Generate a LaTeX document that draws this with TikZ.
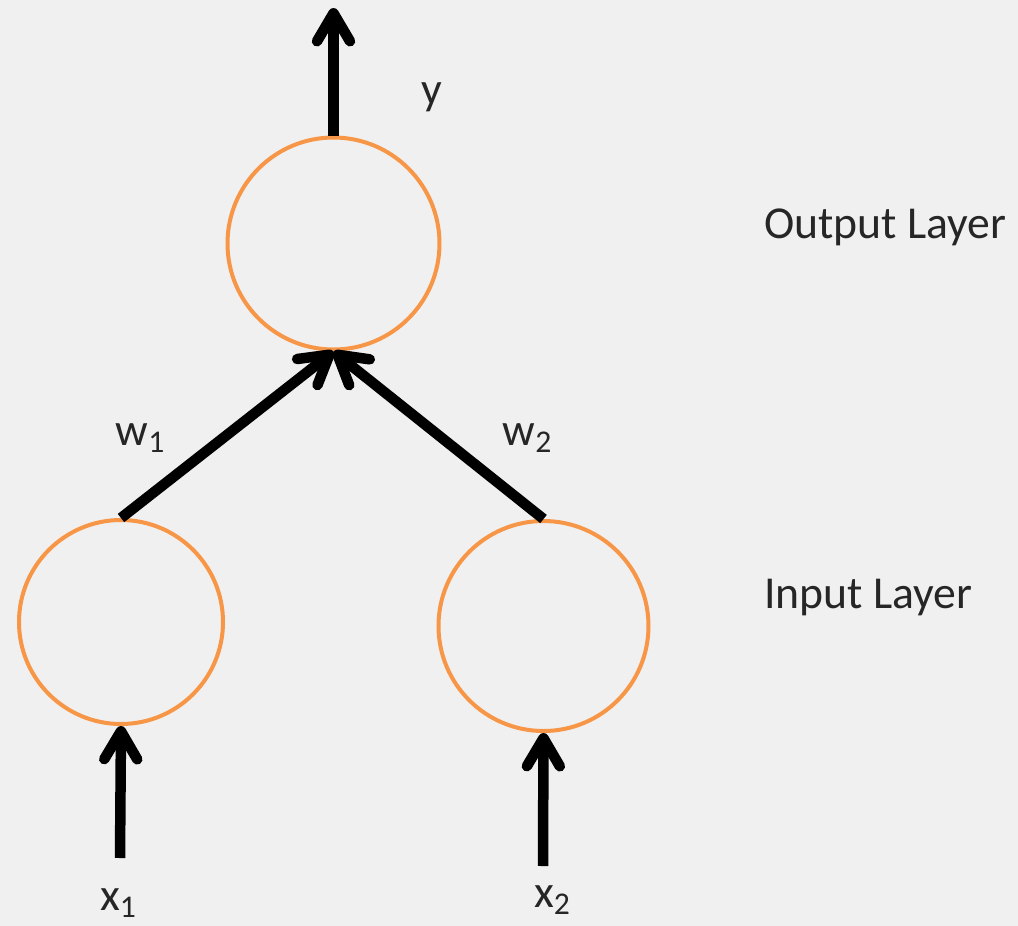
\documentclass[tikz,border=0pt]{standalone}
\usepackage{fontspec}
\setmainfont{Carlito}
\usetikzlibrary{arrows.meta}
\definecolor{bggrey}{HTML}{F0F0F0}
\definecolor{neuron}{HTML}{F79646}
\newcommand{\sub}[1]{\raisebox{-0.35ex}{\small #1}}
\begin{document}
\begin{tikzpicture}[
  unit/.style={circle,draw=neuron,line width=0.4mm,inner sep=0pt},
  link/.style={line width=1.05mm,-{Straight Barb[length=2.8mm,width=3.3mm,round]}},
  lbl/.style={font=\fontsize{13}{15}\selectfont,text=black!85}]
  % background
  \fill[bggrey] (0,0) rectangle (10.18,-9.26);
  \useasboundingbox (0,0) rectangle (10.18,-9.26);
  % neurons
  \node[unit,minimum size=2.12cm] (out) at (3.335,-2.435) {};
  \node[unit,minimum size=2.04cm] (in1) at (1.21,-6.22) {};
  \node[unit,minimum size=2.10cm] (in2) at (5.435,-6.26) {};
  % free ends of the arrows
  \coordinate (ytop) at (3.335,-0.08);
  \coordinate (x1end) at (1.20,-8.58);
  \coordinate (x2end) at (5.43,-8.66);
  % connections
  \draw[link] (out.north) -- (ytop);
  \draw[link] (in1.north) -- (out.south);
  \draw[link] (in2.north) -- (out.south);
  \draw[link] (x1end) -- (in1.south);
  \draw[link] (x2end) -- (in2.south);
  % labels
  \node[lbl] (ylbl) at (4.32,-0.97) {y};
  \node[lbl] (w1lbl) at (1.40,-4.38) {w\sub{1}};
  \node[lbl] (w2lbl) at (5.27,-4.38) {w\sub{2}};
  \node[lbl] (x1lbl) at (1.18,-9.03) {x\sub{1}};
  \node[lbl] (x2lbl) at (5.52,-9.0) {x\sub{2}};
  \node[lbl,anchor=west] (outlbl) at (7.52,-2.27) {Output Layer};
  \node[lbl,anchor=west] (inlbl) at (7.52,-5.98) {Input Layer};
\end{tikzpicture}
\end{document}
